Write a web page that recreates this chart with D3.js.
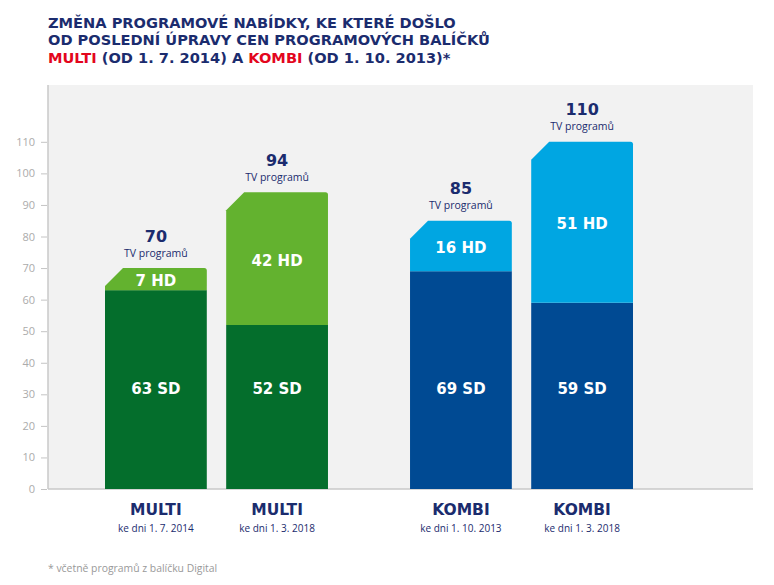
<!DOCTYPE html>
<html><head><meta charset="utf-8">
<script src="https://cdn.jsdelivr.net/npm/d3@7"></script>
<style>body{margin:0;background:#fff}svg{display:block}</style>
</head><body>
<script>
const groups = ["MULTI", "KOMBI"];
const packages = ["MULTI", "MULTI", "KOMBI", "KOMBI"];
const periodIndex = [0, 1, 0, 1];
const dates = ["ke dni 1. 7. 2014", "ke dni 1. 3. 2018", "ke dni 1. 10. 2013", "ke dni 1. 3. 2018"];
const sdValues = [63, 52, 69, 59];
const hdValues = [7, 42, 16, 51];
const totals = [70, 94, 85, 110];
const yTicks = [0, 10, 20, 30, 40, 50, 60, 70, 80, 90, 100, 110];
const titleLines = [
  [["ZMĚNA PROGRAMOVÉ NABÍDKY, KE KTERÉ DOŠLO", "navy"]],
  [["OD POSLEDNÍ ÚPRAVY CEN PROGRAMOVÝCH BALÍČKŮ", "navy"]],
  [["MULTI", "red"], [" (OD 1. 7. 2014) A ", "navy"], ["KOMBI", "red"], [" (OD 1. 10. 2013)*", "navy"]]
];
const footnote = "* včetně programů z balíčku Digital";

const W = 774, H = 585;
const navy = "#1b2c6e", red = "#e3061d";
const sdColors = {MULTI: "#046e2c", KOMBI: "#004a93"};
const hdColors = {MULTI: "#63b22f", KOMBI: "#00a6e2"};
const boldFont = "'DejaVu Sans', sans-serif";
const regFont = "'Open Sans', sans-serif";

const svg = d3.select("body").append("svg").attr("width", W).attr("height", H);

const plot = {left: 48, right: 753, top: 85, bottom: 489};
const y = d3.scaleLinear().domain([0, 128]).range([plot.bottom, plot.top]);
const xOuter = d3.scaleBand().domain(groups).range([105, 633]).paddingInner(0.269).paddingOuter(0);
const xInner = d3.scaleBand().domain([0, 1]).range([0, xOuter.bandwidth()]).paddingInner(0.16).paddingOuter(0);
const bx = i => xOuter(packages[i]) + xInner(periodIndex[i]);
const bw = xInner.bandwidth();

// title
titleLines.forEach((line, li) => {
  const t = svg.append("text").attr("x", 48).attr("y", 27.5 + li * 17.5)
    .attr("font-family", boldFont).attr("font-weight", "bold").attr("font-size", 14.6);
  line.forEach(([s, c]) => t.append("tspan").text(s).attr("fill", c === "red" ? red : navy));
});

// plot background
svg.append("rect").attr("x", plot.left).attr("y", plot.top)
  .attr("width", plot.right - plot.left).attr("height", plot.bottom - plot.top).attr("fill", "#f2f2f2");

// y axis
const yAxis = d3.axisLeft(y).tickValues(yTicks).tickSize(6).tickPadding(6);
const ga = svg.append("g").attr("transform", `translate(${plot.left - 1},0)`).call(yAxis);
ga.select(".domain").remove();
ga.selectAll(".tick line").attr("stroke", "#c4c4c4");
ga.selectAll(".tick text").attr("fill", "#ababab").attr("font-family", regFont).attr("font-size", 11);
svg.append("line").attr("x1", plot.left).attr("x2", plot.left).attr("y1", plot.top).attr("y2", plot.bottom)
  .attr("stroke", "#c8c8c8").attr("stroke-width", 1.5);
svg.append("line").attr("x1", plot.left).attr("x2", plot.right).attr("y1", plot.bottom).attr("y2", plot.bottom)
  .attr("stroke", "#c8c8c8").attr("stroke-width", 1.5);

// bars
const idx = d3.range(packages.length);
const chamfer = 18, r = 2.5;
const sdLabelLevel = 32; // SD labels share one vertical level
const g = svg.append("g");
idx.forEach(i => {
  const x0 = bx(i), x1 = x0 + bw;
  const ySd = y(sdValues[i]), yTop = y(sdValues[i] + hdValues[i]);
  g.append("rect").attr("x", x0).attr("y", ySd).attr("width", bw).attr("height", y(0) - ySd)
    .attr("fill", sdColors[packages[i]]);
  const p = d3.path();
  p.moveTo(x0, ySd);
  p.lineTo(x0, yTop + chamfer);
  p.lineTo(x0 + chamfer, yTop);
  p.lineTo(x1 - r, yTop);
  p.quadraticCurveTo(x1, yTop, x1, yTop + r);
  p.lineTo(x1, ySd);
  p.closePath();
  g.append("path").attr("d", p.toString()).attr("fill", hdColors[packages[i]]);

  const cx = x0 + bw / 2;
  g.append("text").attr("x", cx).attr("y", y(sdLabelLevel) + 5.5).attr("text-anchor", "middle")
    .attr("fill", "#fff").attr("font-family", boldFont).attr("font-weight", "bold").attr("font-size", 15)
    .text(sdValues[i] + " SD");
  g.append("text").attr("x", cx).attr("y", (ySd + yTop) / 2 + 7).attr("text-anchor", "middle")
    .attr("fill", "#fff").attr("font-family", boldFont).attr("font-weight", "bold").attr("font-size", 15)
    .text(hdValues[i] + " HD");

  g.append("text").attr("x", cx).attr("y", yTop - 26.5).attr("text-anchor", "middle")
    .attr("fill", navy).attr("font-family", boldFont).attr("font-weight", "bold").attr("font-size", 16)
    .text(totals[i]);
  g.append("text").attr("x", cx).attr("y", yTop - 11.5).attr("text-anchor", "middle")
    .attr("fill", navy).attr("font-family", regFont).attr("font-size", 10.5)
    .text("TV programů");

  g.append("text").attr("x", cx).attr("y", 515).attr("text-anchor", "middle")
    .attr("fill", navy).attr("font-family", boldFont).attr("font-weight", "bold").attr("font-size", 15.5)
    .text(packages[i]);
  g.append("text").attr("x", cx).attr("y", 532).attr("text-anchor", "middle")
    .attr("fill", navy).attr("font-family", regFont).attr("font-size", 10)
    .text(dates[i]);
});

svg.append("text").attr("x", 48).attr("y", 572).attr("fill", "#999")
  .attr("font-family", regFont).attr("font-size", 10.4).text(footnote);
</script>
</body></html>
